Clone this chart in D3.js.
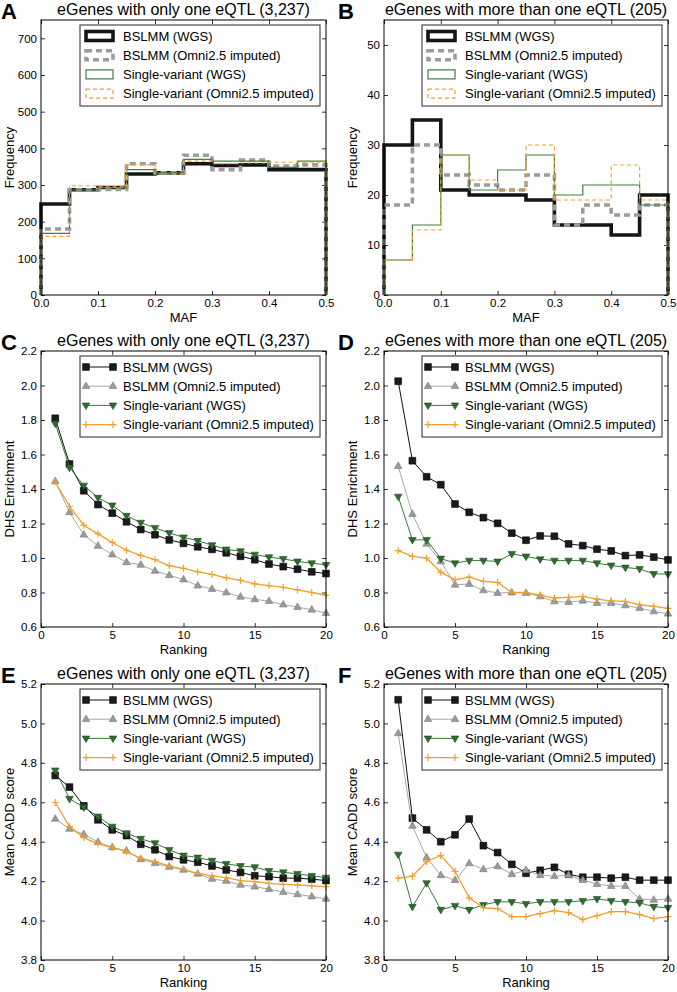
<!DOCTYPE html>
<html><head><meta charset="utf-8">
<script src="https://cdn.jsdelivr.net/npm/d3@7"></script>
<style>body{margin:0;background:#fff} text{font-family:"Liberation Sans",Arial,sans-serif;fill:#000}</style>
</head><body><svg id="chart" width="677" height="992"></svg>
<script>
// ---------------- DATA ----------------
const seriesNames = ["BSLMM (WGS)", "BSLMM (Omni2.5 imputed)", "Single-variant (WGS)", "Single-variant (Omni2.5 imputed)"];
const mafBinEdges = [0, 0.05, 0.1, 0.15, 0.2, 0.25, 0.3, 0.35, 0.4, 0.45, 0.5];
const mafTicks = [0, 0.1, 0.2, 0.3, 0.4, 0.5];
const rankTicks = [0, 5, 10, 15, 20];
const ranking = [1,2,3,4,5,6,7,8,9,10,11,12,13,14,15,16,17,18,19,20];

// A: MAF histogram, eGenes with one eQTL
const histOne_bslmmWGS   = [248, 287, 293, 330, 333, 358, 353, 355, 342, 342];
const histOne_bslmmOmni  = [180, 287, 288, 358, 333, 381, 342, 368, 352, 355];
const histOne_singleWGS  = [168, 287, 293, 342, 333, 370, 365, 365, 348, 365];
const histOne_singleOmni = [160, 298, 295, 355, 330, 365, 358, 360, 362, 362];
// B: MAF histogram, eGenes with more than one eQTL
const histMulti_bslmmWGS   = [30, 35, 21, 20, 20, 19, 14, 14, 12, 20];
const histMulti_bslmmOmni  = [18, 30, 24, 22, 21, 24, 14, 18, 16, 18];
const histMulti_singleWGS  = [7, 14, 28, 21, 25, 28, 20, 22, 22, 18];
const histMulti_singleOmni = [7, 13, 28, 23, 21, 30, 19, 19, 26, 19];

// C: DHS enrichment, one eQTL
const dhsOne_bslmmWGS   = [1.81,1.545,1.39,1.31,1.26,1.21,1.165,1.135,1.105,1.085,1.065,1.05,1.03,1.01,0.99,0.965,0.95,0.935,0.92,0.91];
const dhsOne_bslmmOmni  = [1.445,1.265,1.135,1.07,1.02,0.975,0.96,0.925,0.9,0.875,0.84,0.82,0.8,0.775,0.76,0.75,0.73,0.715,0.7,0.68];
const dhsOne_singleWGS  = [1.78,1.525,1.42,1.35,1.305,1.245,1.205,1.175,1.145,1.12,1.1,1.075,1.05,1.04,1.02,1.005,0.995,0.98,0.97,0.96];
const dhsOne_singleOmni = [1.44,1.3,1.19,1.14,1.09,1.045,1.015,0.99,0.955,0.94,0.92,0.905,0.885,0.87,0.85,0.84,0.83,0.815,0.8,0.785];
// D: DHS enrichment, more than one eQTL
const dhsMulti_bslmmWGS   = [2.025,1.564,1.471,1.425,1.313,1.265,1.234,1.201,1.144,1.103,1.128,1.126,1.082,1.072,1.051,1.041,1.014,1.018,1.005,0.989];
const dhsMulti_bslmmOmni  = [1.533,1.255,1.082,0.98,0.845,0.849,0.812,0.797,0.8,0.797,0.777,0.748,0.745,0.752,0.739,0.739,0.725,0.71,0.69,0.677];
const dhsMulti_singleWGS  = [1.356,1.105,1.105,0.997,0.97,0.985,0.985,0.98,1.024,1.009,0.993,0.985,0.985,0.985,0.97,0.957,0.945,0.937,0.908,0.907];
const dhsMulti_singleOmni = [1.043,1.009,0.999,0.918,0.874,0.889,0.864,0.858,0.8,0.8,0.785,0.768,0.772,0.777,0.762,0.752,0.748,0.729,0.72,0.708];

// E: mean CADD, one eQTL
const caddOne_bslmmWGS   = [4.736,4.677,4.582,4.511,4.46,4.431,4.387,4.359,4.325,4.308,4.296,4.277,4.257,4.244,4.227,4.223,4.215,4.215,4.21,4.203];
const caddOne_bslmmOmni  = [4.516,4.465,4.438,4.398,4.372,4.354,4.311,4.291,4.272,4.257,4.237,4.211,4.201,4.181,4.172,4.159,4.144,4.133,4.122,4.11];
const caddOne_singleWGS  = [4.762,4.618,4.575,4.528,4.477,4.443,4.415,4.393,4.359,4.33,4.32,4.304,4.288,4.277,4.271,4.252,4.245,4.237,4.227,4.218];
const caddOne_singleOmni = [4.599,4.477,4.421,4.389,4.37,4.35,4.316,4.299,4.277,4.26,4.24,4.227,4.218,4.203,4.198,4.189,4.184,4.181,4.176,4.172];
// F: mean CADD, more than one eQTL
const caddMulti_bslmmWGS   = [5.12,4.52,4.46,4.40,4.435,4.515,4.38,4.345,4.285,4.24,4.255,4.27,4.235,4.22,4.22,4.215,4.22,4.205,4.205,4.205];
const caddMulti_bslmmOmni  = [4.95,4.48,4.32,4.23,4.205,4.29,4.26,4.275,4.235,4.255,4.23,4.225,4.23,4.205,4.185,4.175,4.175,4.11,4.105,4.11];
const caddMulti_singleWGS  = [4.335,4.07,4.19,4.055,4.075,4.055,4.08,4.095,4.095,4.085,4.095,4.095,4.095,4.1,4.11,4.1,4.095,4.09,4.07,4.065];
const caddMulti_singleOmni = [4.215,4.225,4.3,4.33,4.25,4.115,4.065,4.06,4.02,4.02,4.035,4.05,4.04,4.005,4.025,4.045,4.045,4.03,4.01,4.02];

const freqTicksOne = [0,100,200,300,400,500,600,700];
const freqTicksMulti = [0,10,20,30,40,50];
const dhsTicks = [0.6,0.8,1.0,1.2,1.4,1.6,1.8,2.0,2.2];
const caddTicks = [3.8,4.0,4.2,4.4,4.6,4.8,5.0,5.2];

// ---------------- STYLES / LAYOUT ----------------
const FONT_TICK = 11.5, FONT_LAB = 13, FONT_TITLE = 16, FONT_LEG = 13;
const histStyles = [
  {stroke:"#151515", width:3.6, dash:null},
  {stroke:"#9c9c9c", width:3.6, dash:"6,4"},
  {stroke:"#3f7f3f", width:1.2, dash:null},
  {stroke:"#f0a030", width:1.2, dash:"4,3"}
];
const lineStyles = [
  {stroke:"#111", width:1, marker:"square", fill:"#1a1a1a", mstroke:"#000"},
  {stroke:"#a8a8a8", width:1, marker:"up", fill:"#9a9a9a", mstroke:"#7a7a7a"},
  {stroke:"#3a7a3a", width:1, marker:"down", fill:"#2e6b2e", mstroke:"#1f4f1f"},
  {stroke:"#f0a030", width:1.3, marker:"plus", fill:"none", mstroke:"#f0a030"}
];
const colX = [[41,326],[384,668]];
const rowY = [[20,295],[351,627],[684,960]];

const panels = [
  {letter:"A", col:0,row:0, type:"hist", title:"eGenes with only one eQTL (3,237)", ylabel:"Frequency", xlabel:"MAF",
   ydom:[0,750], yticks:freqTicksOne, yfmt:d3.format("d"), series:[histOne_bslmmWGS,histOne_bslmmOmni,histOne_singleWGS,histOne_singleOmni]},
  {letter:"B", col:1,row:0, type:"hist", title:"eGenes with more than one eQTL (205)", ylabel:"Frequency", xlabel:"MAF",
   ydom:[0,55], yticks:freqTicksMulti, yfmt:d3.format("d"), series:[histMulti_bslmmWGS,histMulti_bslmmOmni,histMulti_singleWGS,histMulti_singleOmni]},
  {letter:"C", col:0,row:1, type:"line", title:"eGenes with only one eQTL (3,237)", ylabel:"DHS Enrichment", xlabel:"Ranking",
   ydom:[0.6,2.2], yticks:dhsTicks, yfmt:d3.format(".1f"), series:[dhsOne_bslmmWGS,dhsOne_bslmmOmni,dhsOne_singleWGS,dhsOne_singleOmni]},
  {letter:"D", col:1,row:1, type:"line", title:"eGenes with more than one eQTL (205)", ylabel:"DHS Enrichment", xlabel:"Ranking",
   ydom:[0.6,2.2], yticks:dhsTicks, yfmt:d3.format(".1f"), series:[dhsMulti_bslmmWGS,dhsMulti_bslmmOmni,dhsMulti_singleWGS,dhsMulti_singleOmni]},
  {letter:"E", col:0,row:2, type:"line", title:"eGenes with only one eQTL (3,237)", ylabel:"Mean CADD score", xlabel:"Ranking",
   ydom:[3.8,5.2], yticks:caddTicks, yfmt:d3.format(".1f"), series:[caddOne_bslmmWGS,caddOne_bslmmOmni,caddOne_singleWGS,caddOne_singleOmni]},
  {letter:"F", col:1,row:2, type:"line", title:"eGenes with more than one eQTL (205)", ylabel:"Mean CADD score", xlabel:"Ranking",
   ydom:[3.8,5.2], yticks:caddTicks, yfmt:d3.format(".1f"), series:[caddMulti_bslmmWGS,caddMulti_bslmmOmni,caddMulti_singleWGS,caddMulti_singleOmni]}
];

const svg = d3.select("#chart");
svg.append("rect").attr("width",677).attr("height",992).attr("fill","#fff");

function markerPath(kind){
  if(kind==="square") return d3.symbol(d3.symbolSquare, 46)();
  if(kind==="up") return "M0,-4.2L3.8,2.4L-3.8,2.4Z";
  if(kind==="down") return "M0,4.2L3.8,-2.4L-3.8,-2.4Z";
  return "M-3.5,0H3.5M0,-3.5V3.5";
}

panels.forEach(p=>{
  const [L,R] = colX[p.col], [T,B] = rowY[p.row];
  const g = svg.append("g");
  const x = d3.scaleLinear().domain(p.type==="hist"?[0,0.5]:[0,20]).range([L,R]);
  const y = d3.scaleLinear().domain(p.ydom).range([B,T]);
  const xt = p.type==="hist"?mafTicks:rankTicks;
  const xfmt = p.type==="hist"?d3.format(".1f"):d3.format("d");

  // axes (inward ticks on all four sides)
  const ax = [
    g.append("g").attr("transform",`translate(0,${B})`).call(d3.axisBottom(x).tickValues(xt).tickFormat(xfmt).tickSize(-4).tickPadding(4)),
    g.append("g").attr("transform",`translate(0,${T})`).call(d3.axisTop(x).tickValues(xt).tickFormat("").tickSize(-4)),
    g.append("g").attr("transform",`translate(${L},0)`).call(d3.axisLeft(y).tickValues(p.yticks).tickFormat(p.yfmt).tickSize(-4).tickPadding(4)),
    g.append("g").attr("transform",`translate(${R},0)`).call(d3.axisRight(y).tickValues(p.yticks).tickFormat("").tickSize(-4))
  ];
  ax.forEach(a=>{
    a.select(".domain").remove();
    a.selectAll(".tick line").attr("stroke","#000").attr("stroke-width",0.8);
    a.selectAll(".tick text").attr("font-size",FONT_TICK).attr("font-family","Liberation Sans, Arial, sans-serif").attr("fill","#000");
  });

  // data
  const plot = g.append("g");
  if(p.type==="hist"){
    p.series.forEach((vals,i)=>{
      const pts = [[mafBinEdges[0],0]];
      vals.forEach((v,k)=>{ pts.push([mafBinEdges[k],v]); pts.push([mafBinEdges[k+1],v]); });
      pts.push([mafBinEdges[mafBinEdges.length-1],0]);
      const st = histStyles[i];
      plot.append("path").attr("d", d3.line().x(d=>x(d[0])).y(d=>y(d[1]))(pts))
        .attr("fill","none").attr("stroke",st.stroke).attr("stroke-width",st.width)
        .attr("stroke-dasharray",st.dash).attr("stroke-linejoin","miter").attr("stroke-linecap","butt");
    });
  } else {
    p.series.forEach((vals,i)=>{
      const st = lineStyles[i];
      const pts = ranking.map((r,k)=>[r,vals[k]]);
      plot.append("path").attr("d", d3.line().x(d=>x(d[0])).y(d=>y(d[1]))(pts))
        .attr("fill","none").attr("stroke",st.stroke).attr("stroke-width",st.width);
      plot.selectAll(null).data(pts).enter().append("path")
        .attr("transform",d=>`translate(${x(d[0])},${y(d[1])})`)
        .attr("d",markerPath(st.marker))
        .attr("fill",st.fill).attr("stroke",st.mstroke).attr("stroke-width",st.marker==="plus"?1.2:0.6);
    });
  }

  // frame
  g.append("rect").attr("x",L).attr("y",T).attr("width",R-L).attr("height",B-T)
    .attr("fill","none").attr("stroke","#000").attr("stroke-width",1);

  // legend
  const legW = 240, legH = 81, rowH = 19.2;
  const lx = R - 6 - legW, ly = T + 5;
  const lg = g.append("g");
  lg.append("rect").attr("x",lx).attr("y",ly).attr("width",legW).attr("height",legH)
    .attr("fill","#fff").attr("stroke","#4a4a4a").attr("stroke-width",1.2);
  seriesNames.forEach((name,i)=>{
    const cy = ly + 11 + i*rowH;
    const hx0 = lx + 6, hx1 = lx + 33;
    if(p.type==="hist"){
      const st = histStyles[i];
      lg.append("rect").attr("x",hx0).attr("y",cy-4.5).attr("width",hx1-hx0).attr("height",9)
        .attr("fill","none").attr("stroke",st.stroke).attr("stroke-width",st.width).attr("stroke-dasharray",st.dash);
    } else {
      const st = lineStyles[i];
      lg.append("line").attr("x1",hx0).attr("x2",hx1).attr("y1",cy).attr("y2",cy)
        .attr("stroke",st.stroke).attr("stroke-width",st.width);
      [hx0,hx1].forEach(mx=>{
        lg.append("path").attr("transform",`translate(${mx},${cy})`).attr("d",markerPath(st.marker))
          .attr("fill",st.fill).attr("stroke",st.mstroke).attr("stroke-width",st.marker==="plus"?1.2:0.6);
      });
    }
    lg.append("text").attr("x",lx+43).attr("y",cy).attr("dy","0.36em").attr("font-size",FONT_LEG).text(name);
  });

  // labels
  g.append("text").attr("x",(L+R)/2).attr("y",T-5).attr("text-anchor","middle").attr("font-size",FONT_TITLE).text(p.title);
  g.append("text").attr("x",(L+R)/2).attr("y",B+27).attr("text-anchor","middle").attr("font-size",FONT_LAB).text(p.xlabel);
  g.append("text").attr("transform",`translate(${L-27},${(T+B)/2}) rotate(-90)`).attr("text-anchor","middle").attr("font-size",FONT_LAB).text(p.ylabel);
  g.append("text").attr("x",p.col===0?1:338).attr("y",rowY[p.row][0]-1).attr("font-size",22).attr("font-weight","bold").text(p.letter);
});
</script></body></html>
